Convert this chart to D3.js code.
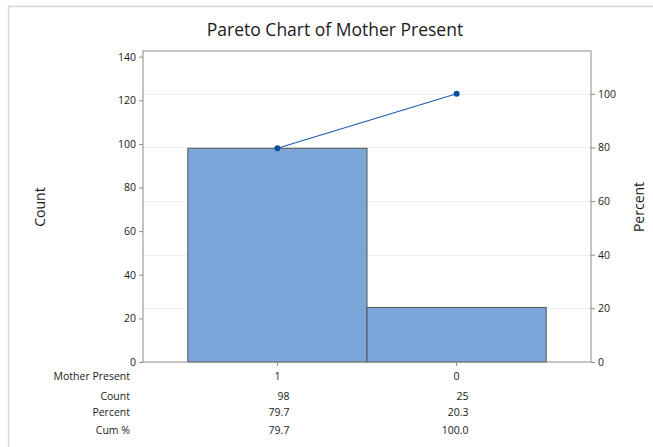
<!DOCTYPE html>
<html>
<head>
<meta charset="utf-8">
<script src="https://cdn.jsdelivr.net/npm/d3@7"></script>
<style>
  body { margin: 0; background: #fff; }
  text { font-family: "Open Sans", "Noto Sans", sans-serif; fill: #1a1a1a; }
</style>
</head>
<body>
<div id="chart"></div>
<script>
var categories = ["1", "0"];
var counts = [98, 25];
var percents = ["79.7", "20.3"];
var cumPercents = [79.7, 100.0];
var cumLabels = ["79.7", "100.0"];
var countTicks = [0, 20, 40, 60, 80, 100, 120, 140];
var percentTicks = [0, 20, 40, 60, 80, 100];

var total = d3.sum(counts);

var W = 653, H = 447;
var plot = { left: 143, right: 591, top: 51, bottom: 362 };

var svg = d3.select("#chart").append("svg")
    .attr("width", W)
    .attr("height", H);

// outer frame (only top and left edges show)
svg.append("path")
    .attr("d", "M8.5," + H + "V6.5H" + W)
    .attr("fill", "none")
    .attr("stroke", "#d6d6d6")
    .attr("stroke-width", 1.5);

var x = d3.scaleBand()
    .domain(categories)
    .range([plot.left, plot.right])
    .paddingInner(0)
    .paddingOuter(0.25);

var yMax = 142.6;
var y = d3.scaleLinear()
    .domain([0, yMax])
    .range([plot.bottom, plot.top]);

// 100% lines up with the total count
var yp = d3.scaleLinear()
    .domain([0, yMax / total * 100])
    .range([plot.bottom, plot.top]);

// gridlines from percent axis
svg.append("g")
    .selectAll("line")
    .data(percentTicks.filter(function(d) { return d > 0; }))
    .enter()
    .append("line")
    .attr("x1", plot.left)
    .attr("x2", plot.right)
    .attr("y1", function(d) { return Math.round(yp(d)) + 0.5; })
    .attr("y2", function(d) { return Math.round(yp(d)) + 0.5; })
    .attr("stroke", "#efefef")
    .attr("stroke-width", 1);

// bars
svg.append("g")
    .selectAll("rect")
    .data(counts)
    .enter()
    .append("rect")
    .attr("x", function(d, i) { return x(categories[i]); })
    .attr("y", function(d) { return y(d); })
    .attr("width", x.bandwidth())
    .attr("height", function(d) { return y(0) - y(d); })
    .attr("fill", "#7ba6d9")
    .attr("stroke", "#555")
    .attr("stroke-width", 1);

// plot frame
svg.append("rect")
    .attr("x", plot.left)
    .attr("y", plot.top)
    .attr("width", plot.right - plot.left)
    .attr("height", plot.bottom - plot.top)
    .attr("fill", "none")
    .attr("stroke", "#8c8c8c")
    .attr("stroke-width", 1);

// axes
var yAxis = d3.axisLeft(y)
    .tickValues(countTicks)
    .tickSize(4)
    .tickSizeOuter(0);

var gy = svg.append("g")
    .attr("transform", "translate(" + plot.left + ",0)")
    .call(yAxis);

var ypAxis = d3.axisRight(yp)
    .tickValues(percentTicks)
    .tickSize(4)
    .tickSizeOuter(0);

var gyp = svg.append("g")
    .attr("transform", "translate(" + plot.right + ",0)")
    .call(ypAxis);

var xAxis = d3.axisBottom(x)
    .tickSize(4)
    .tickSizeOuter(0)
    .tickFormat("");

var gx = svg.append("g")
    .attr("transform", "translate(0," + plot.bottom + ")")
    .call(xAxis);

[gy, gyp, gx].forEach(function(g) {
    g.select(".domain").remove();
    g.selectAll(".tick line").attr("stroke", "#8c8c8c");
    g.selectAll(".tick text")
        .style("font-family", "\"Open Sans\", sans-serif")
        .style("font-size", "10.5px")
        .attr("fill", "#1a1a1a");
});

// cumulative percent line
var cx = function(d, i) { return x(categories[i]) + x.bandwidth() / 2; };

svg.append("path")
    .datum(cumPercents)
    .attr("d", d3.line()
        .x(cx)
        .y(function(d) { return yp(d); }))
    .attr("fill", "none")
    .attr("stroke", "#1f5fae")
    .attr("stroke-width", 1.2);

svg.append("g")
    .selectAll("circle")
    .data(cumPercents)
    .enter()
    .append("circle")
    .attr("cx", cx)
    .attr("cy", function(d) { return yp(d); })
    .attr("r", 3)
    .attr("fill", "#0b4fa3");

// title
svg.append("text")
    .attr("x", 335)
    .attr("y", 36)
    .attr("text-anchor", "middle")
    .style("font-size", "17.5px")
    .attr("fill", "#2a2a2a")
    .text("Pareto Chart of Mother Present");

// axis titles
svg.append("text")
    .attr("transform", "translate(45,207) rotate(-90)")
    .attr("text-anchor", "middle")
    .style("font-size", "14px")
    .text("Count");

svg.append("text")
    .attr("transform", "translate(644,207) rotate(-90)")
    .attr("text-anchor", "middle")
    .style("font-size", "14px")
    .text("Percent");

// table under the chart
var rows = [
    { label: "Mother Present", values: categories, anchor: "middle", off: 0 },
    { label: "Count", values: counts, anchor: "end", off: 12 },
    { label: "Percent", values: percents, anchor: "end", off: 12 },
    { label: "Cum %", values: cumLabels, anchor: "end", off: 12 }
];
var rowY = [380, 400, 416, 434];

var table = svg.append("g");
rows.forEach(function(r, j) {
    table.append("text")
        .attr("x", 130)
        .attr("y", rowY[j])
        .attr("text-anchor", "end")
        .style("font-size", "10.5px")
        .text(r.label);
    r.values.forEach(function(v, i) {
        table.append("text")
            .attr("x", x(categories[i]) + x.bandwidth() / 2 + r.off)
            .attr("y", rowY[j])
            .attr("text-anchor", r.anchor)
            .style("font-size", "10.5px")
            .text(v);
    });
});
</script>
</body>
</html>
